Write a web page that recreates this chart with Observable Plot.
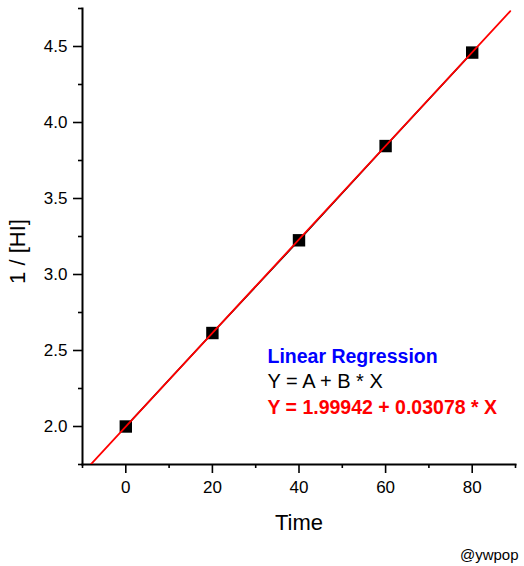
<!DOCTYPE html>
<html>
<head>
<meta charset="utf-8">
<script src="https://cdn.jsdelivr.net/npm/d3@7"></script>
<script src="https://cdn.jsdelivr.net/npm/@observablehq/plot@0.6"></script>
<style>
  html, body { margin: 0; padding: 0; background: #fff; }
  svg { display: block; }
</style>
</head>
<body>
<div id="chart"></div>
<script>
const times = [0, 20, 40, 60, 80];
const invHI = [2.00, 2.615, 3.225, 3.845, 4.46];
const interceptA = 1.99942;
const slopeB = 0.03078;
const fitRange = [-10, 88.8];
const xMajorTicks = [0, 20, 40, 60, 80];
const xMinorTicks = [-10, 10, 30, 50, 70, 90];
const yMajorTicks = [2.0, 2.5, 3.0, 3.5, 4.0, 4.5];
const yMinorTicks = [1.75, 2.25, 2.75, 3.25, 3.75, 4.25, 4.75];
const xTitle = "Time";
const yTitle = "1 / [HI]";
const noteLines = ["Linear Regression", "Y = A + B * X", "Y = 1.99942 + 0.03078 * X"];
const credit = "@ywpop";

const points = times.map((t, i) => ({t, v: invHI[i]}));
const fitLine = fitRange.map(t => ({t, v: interceptA + slopeB * t}));

const font = "'Liberation Sans', Arial, sans-serif";

const chart = Plot.plot({
  width: 524,
  height: 566,
  marginLeft: 82,
  marginRight: 9,
  marginTop: 8,
  marginBottom: 102,
  style: {fontFamily: font, background: "#fff", color: "#000"},
  x: {domain: [-10, 90]},
  y: {domain: [1.75, 4.75]},
  marks: [
    Plot.axisX({ticks: xMajorTicks, tickSize: 9, tickPadding: 7, fontSize: 17, label: null, strokeWidth: 1.6}),
    Plot.axisX({ticks: xMinorTicks, tickSize: 4, text: null, label: null, strokeWidth: 1.6}),
    Plot.axisY({ticks: yMajorTicks, tickSize: 9, tickPadding: 6, fontSize: 17, label: null, tickFormat: d3.format(".1f"), strokeWidth: 1.6}),
    Plot.axisY({ticks: yMinorTicks, tickSize: 4, text: null, label: null, strokeWidth: 1.6}),
    Plot.frame({anchor: "left", strokeWidth: 2}),
    Plot.frame({anchor: "bottom", strokeWidth: 2}),
    Plot.line(points, {x: "t", y: "v", stroke: "#000", strokeWidth: 1.5}),
    Plot.dot(points, {x: "t", y: "v", symbol: "square", r: 7, fill: "#000", stroke: "none"}),
    Plot.line(fitLine, {x: "t", y: "v", stroke: "#ff0000", strokeWidth: 1.8, clip: true}),
    Plot.text([xTitle], {frameAnchor: "bottom", dy: 58, fontSize: 22, textAnchor: "middle", lineAnchor: "middle", fill: "#000"}),
    Plot.text([yTitle], {frameAnchor: "left", dx: -65, dy: 15, rotate: -90, fontSize: 22, textAnchor: "middle", lineAnchor: "middle", fill: "#000"}),
    Plot.text([noteLines[0]], {frameAnchor: "top-left", dx: 185, dy: 348, textAnchor: "start", lineAnchor: "middle", fontSize: 19.5, fontWeight: "bold", fill: "#0000ff"}),
    Plot.text([noteLines[1]], {frameAnchor: "top-left", dx: 185, dy: 373, textAnchor: "start", lineAnchor: "middle", fontSize: 20, fill: "#000"}),
    Plot.text([noteLines[2]], {frameAnchor: "top-left", dx: 185, dy: 399, textAnchor: "start", lineAnchor: "middle", fontSize: 19.5, fontWeight: "bold", fill: "#ff0000"}),
    Plot.text([credit], {frameAnchor: "bottom-right", dx: 3, dy: 91, textAnchor: "end", lineAnchor: "middle", fontSize: 15, fill: "#000"})
  ]
});
document.getElementById("chart").appendChild(chart);
</script>
</body>
</html>
